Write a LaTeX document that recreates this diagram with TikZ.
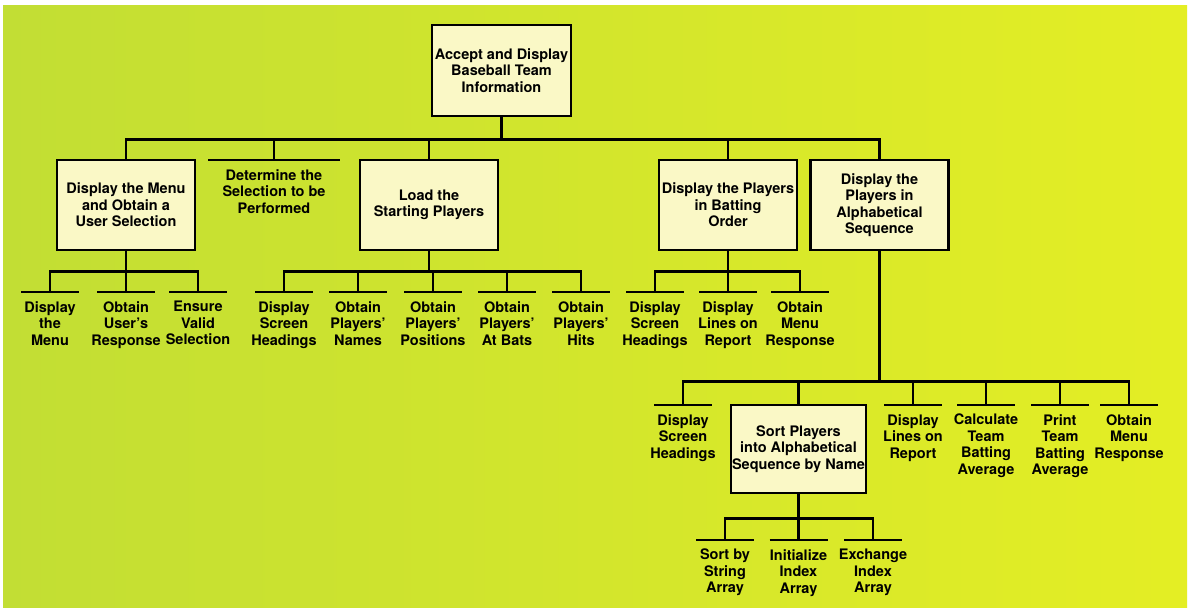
\documentclass[tikz,border=0pt]{standalone}
\usepackage{fontspec}
\setmainfont{TeX Gyre Heros}
\usepackage{xcolor}
\usetikzlibrary{positioning}
\definecolor{chartGreen}{RGB}{194,222,52}
\definecolor{chartYellow}{RGB}{228,238,36}
\definecolor{boxCream}{RGB}{250,248,198}
\tikzset{
  task/.style={
    rectangle, draw=black, line width=2.6pt, fill=boxCream,
    minimum width=138pt, minimum height=90pt,
    align=center, inner sep=1pt,
    font=\fontsize{14.5}{16.5}\selectfont\bfseries
  },
  leaf/.style={
    anchor=north, align=center,
    inner xsep=0pt, inner ysep=9pt,
    font=\fontsize{14.5}{16.5}\selectfont\bfseries
  },
  link/.style={line width=2.6pt},
  bar/.style={line width=2.6pt},
}

\begin{document}
\begin{tikzpicture}[x=1pt, y=-1pt]

  % page and backdrop
  \useasboundingbox (0,0) rectangle (1191,612);
  \fill[white] (0,0) rectangle (1191,612);
  \shade[left color=chartGreen, right color=chartYellow] (3,6) rectangle (1187,607);

  % Row 1 — main task
  \node[task, minimum width=139pt, minimum height=91pt] (main) at (501.5,70.5)
    {Accept and Display\\Baseball Team\\Information};

  % Row 2 — subtasks
  \node[task] (menu)  at (126,205)   {Display the Menu\\and Obtain a\\User Selection};
  \node[leaf] (det)   at (274,160)   {Determine the\\Selection to be\\Performed};
  \node[task] (load)  at (429,205)   {Load the\\Starting Players};
  \node[task] (bat)   at (728,205)   {Display the Players\\in Batting\\Order};
  \node[task] (alpha) at (879.5,205) {Display the\\Players in\\Alphabetical\\Sequence};

  % Row 3 — menu, load and batting order steps
  \node[leaf] (m1) at (50,292)  {Display\\the\\Menu};
  \node[leaf] (m2) at (126,292) {Obtain\\User's\\Response};
  \node[leaf] (m3) at (198,292) {Ensure\\Valid\\Selection};

  \node[leaf] (l1) at (284,292) {Display\\Screen\\Headings};
  \node[leaf] (l2) at (358,292) {Obtain\\Players'\\Names};
  \node[leaf] (l3) at (433,292) {Obtain\\Players'\\Positions};
  \node[leaf] (l4) at (507,292) {Obtain\\Players'\\At Bats};
  \node[leaf] (l5) at (581,292) {Obtain\\Players'\\Hits};

  \node[leaf] (b1) at (655,292) {Display\\Screen\\Headings};
  \node[leaf] (b2) at (728,292) {Display\\Lines on\\Report};
  \node[leaf] (b3) at (800,292) {Obtain\\Menu\\Response};

  % Row 4 — alphabetical sequence steps
  \node[leaf] (a1) at (683,405)  {Display\\Screen\\Headings};
  \node[task, minimum width=135pt, minimum height=88pt] (sort) at (798.5,449)
    {Sort Players\\into Alphabetical\\Sequence by Name};
  \node[leaf] (a3) at (913,405)  {Display\\Lines on\\Report};
  \node[leaf] (a4) at (986,405)  {Calculate\\Team\\Batting\\Average};
  \node[leaf] (a5) at (1060,405) {Print\\Team\\Batting\\Average};
  \node[leaf] (a6) at (1129,405) {Obtain\\Menu\\Response};

  % Row 5 — sort steps
  \node[leaf] (s1) at (725,540) {Sort by\\String\\Array};
  \node[leaf] (s2) at (798.5,540) {Initialize\\Index\\Array};
  \node[leaf] (s3) at (873,540) {Exchange\\Index\\Array};

  % bars over the plain steps
  \draw[bar] ([xshift=-66]det.north) -- ([xshift=66]det.north);
  \foreach \n in {m1,m2,m3,l1,l2,l3,l4,l5,b1,b2,b3,a1,a3,a4,a5,a6,s1,s2,s3}
    \draw[bar] ([xshift=-29]\n.north) -- ([xshift=29]\n.north);

  % Connectors
  \foreach \n in {menu,det,load,bat,alpha}
    \draw[link] (main.south) -- ++(0,22) -| (\n.north);
  \foreach \n in {m1,m2,m3}
    \draw[link] (menu.south) -- ++(0,20) -| (\n.north);
  \foreach \n in {l1,l2,l3,l4,l5}
    \draw[link] (load.south) -- ++(0,20) -| (\n.north);
  \foreach \n in {b1,b2,b3}
    \draw[link] (bat.south) -- ++(0,20) -| (\n.north);
  \foreach \n in {a1,sort,a3,a4,a5,a6}
    \draw[link] (alpha.south) -- ++(0,130) -| (\n.north);
  \foreach \n in {s1,s2,s3}
    \draw[link] (sort.south) -- ++(0,24) -| (\n.north);
\end{tikzpicture}
\end{document}
